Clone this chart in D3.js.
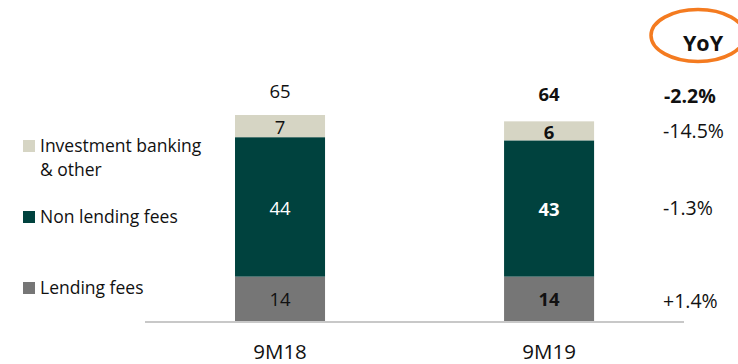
<!DOCTYPE html>
<html>
<head>
<meta charset="utf-8">
<script src="https://cdn.jsdelivr.net/npm/d3@7"></script>
<style>
  html, body { margin: 0; padding: 0; background: #fff; }
  svg { display: block; font-family: "Open Sans", "Noto Sans", sans-serif; }
</style>
</head>
<body>
<svg id="chart" width="738" height="364"></svg>
<script>
// Fee income by period (stacked, bottom to top)
const categories = ["9M18", "9M19"];
const seriesNames = ["Lending fees", "Non lending fees", "Investment banking & other"];
const lendingFees = [14, 14];
const nonLendingFees = [44, 43];
const investmentBanking = [7, 6];
const totals = [65, 64];
const yoyLabels = ["-2.2%", "-14.5%", "-1.3%", "+1.4%"]; // total, IB, non lending, lending
const colors = ["#767676", "#00423e", "#d6d5c4"];

const svg = d3.select("#chart");

const x = d3.scaleBand().domain(categories).range([154.3, 674.8]).paddingInner(0.6654).paddingOuter(0.3);
const y = d3.scaleLinear().domain([0, 65]).range([321, 115]);

const rows = categories.map((c, i) => ({
  cat: c,
  "Lending fees": lendingFees[i],
  "Non lending fees": nonLendingFees[i],
  "Investment banking & other": investmentBanking[i]
}));
const stacked = d3.stack().keys(seriesNames)(rows);

// Bars
svg.append("g").selectAll("g").data(stacked).join("g")
  .attr("fill", (d, i) => colors[i])
  .selectAll("rect").data(d => d).join("rect")
  .attr("x", d => x(d.data.cat))
  .attr("width", x.bandwidth())
  .attr("y", d => y(d[1]))
  .attr("height", d => y(d[0]) - y(d[1]));

// Segment value labels; the latest period is bold
const segLabelColor = ["#111", "#fff", "#111"];
stacked.forEach((s, si) => {
  svg.append("g").selectAll("text").data(s).join("text")
    .attr("x", d => x(d.data.cat) + x.bandwidth() / 2)
    .attr("y", d => (y(d[0]) + y(d[1])) / 2 + 1)
    .attr("dy", "0.36em")
    .attr("text-anchor", "middle")
    .attr("font-size", 18.5)
    .attr("font-weight", (d, i) => i === 1 ? 700 : 400)
    .attr("fill", segLabelColor[si])
    .text(d => d[1] - d[0]);
});

// Totals above bars
svg.append("g").selectAll("text").data(categories).join("text")
  .attr("x", c => x(c) + x.bandwidth() / 2)
  .attr("y", (c, i) => y(totals[i]) - 23.5)
  .attr("dy", "0.36em")
  .attr("text-anchor", "middle")
  .attr("font-size", 18.5)
  .attr("font-weight", (c, i) => i === 1 ? 700 : 400)
  .attr("fill", "#111")
  .text((c, i) => totals[i]);

// Baseline
svg.append("line")
  .attr("x1", 145).attr("x2", 684)
  .attr("y1", 322).attr("y2", 322)
  .attr("stroke", "#c8c8c8").attr("stroke-width", 2);

// Category axis labels
const xAxis = d3.axisBottom(x).tickSize(0).tickPadding(0);
const ax = svg.append("g").attr("transform", "translate(0,359)").call(xAxis);
ax.select(".domain").remove();
ax.selectAll("text")
  .attr("font-size", 20.5)
  .attr("font-family", "\"Open Sans\", \"Noto Sans\", sans-serif")
  .attr("fill", "#111")
  .attr("dy", "0");

// YoY header with circled highlight
svg.append("ellipse")
  .attr("cx", 698).attr("cy", 35.5)
  .attr("rx", 47).attr("ry", 26)
  .attr("fill", "none")
  .attr("stroke", "#f47b20").attr("stroke-width", 3.5);
svg.append("text")
  .attr("x", 703).attr("y", 43)
  .attr("dy", "0.36em")
  .attr("text-anchor", "middle")
  .attr("font-size", 21.5).attr("font-weight", 700)
  .attr("fill", "#111")
  .text("YoY");

// YoY changes: total, then each segment at its 9M19 position
const yoyY = [
  y(totals[1]) - 22,
  (y(stacked[2][1][0]) + y(stacked[2][1][1])) / 2,
  (y(stacked[1][1][0]) + y(stacked[1][1][1])) / 2 - 1,
  (y(stacked[0][1][0]) + y(stacked[0][1][1])) / 2 + 2
];
svg.append("g").selectAll("text").data(yoyLabels).join("text")
  .attr("x", (d, i) => i === 0 ? 664 : 663)
  .attr("y", (d, i) => yoyY[i])
  .attr("dy", "0.36em")
  .attr("text-anchor", "start")
  .attr("font-size", 19.5)
  .attr("font-weight", (d, i) => i === 0 ? 700 : 400)
  .attr("fill", "#111")
  .text(d => d);

// Legend
const legend = [
  { lines: ["Investment banking", "& other"], color: colors[2], y: 146 },
  { lines: ["Non lending fees"], color: colors[1], y: 217 },
  { lines: ["Lending fees"], color: colors[0], y: 288 }
];
const lg = svg.append("g").selectAll("g").data(legend).join("g");
lg.append("rect")
  .attr("x", 23).attr("y", d => d.y - 6)
  .attr("width", 12).attr("height", 12)
  .attr("fill", d => d.color);
lg.each(function(d) {
  const t = d3.select(this).append("text")
    .attr("font-size", 17.5).attr("fill", "#111");
  d.lines.forEach((l, i) => {
    t.append("tspan").attr("x", 40).attr("y", d.y + i * 24).attr("dy", "0.36em").text(l);
  });
});
</script>
</body>
</html>
